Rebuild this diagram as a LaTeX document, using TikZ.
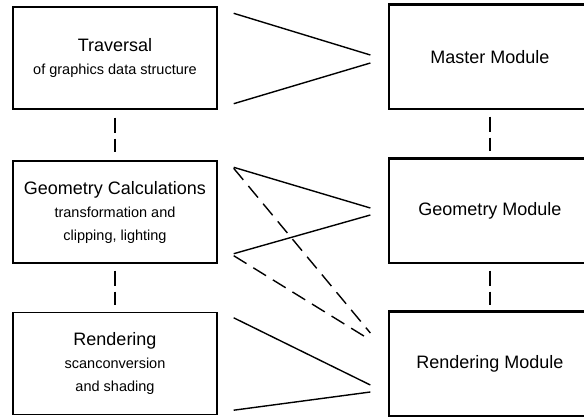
\documentclass[tikz,border=0pt]{standalone}
\usepackage{fontspec}
\setmainfont{Liberation Sans}
\usetikzlibrary{calc}
\begin{document}
\begin{tikzpicture}[x=1pt,y=-1pt,
  lbox/.style={draw, line width=1.4pt, minimum width=204pt, minimum height=102pt, inner sep=0pt, align=center, font=\fontsize{14.5}{23}\selectfont},
  rbox/.style={draw, line width=1.3pt, minimum width=260pt, minimum height=104pt, inner sep=0pt, font=\fontsize{18}{23}\selectfont},
  topbar/.style={line width=3.5pt},
  conn/.style={line width=1.4pt},
  dconn/.style={line width=1.4pt, dash pattern=on 15pt off 8pt},
  vdash/.style={line width=1.4pt, dash pattern=on 15pt off 6pt}]
\useasboundingbox (0,0) rectangle (584,416);
\clip (0,0) rectangle (584,416);
\fill[white] (0,0) rectangle (584,416);
% left boxes
\node[lbox] (trav) at (115,58) {{\fontsize{18}{23}\selectfont Traversal}\\of graphics data structure};
\node[lbox] (geo) at (115,212) {{\fontsize{18}{23}\selectfont Geometry Calculations}\\transformation and\\clipping, lighting};
\node[lbox] (rend) at (115,363.5) {{\fontsize{18}{23}\selectfont Rendering}\\scanconversion\\and shading};
% right boxes (extend past the right edge of the picture)
\node[rbox] (master) at (519,57) {\hspace*{-58pt}Master Module};
\node[rbox] (gmod) at (519,211) {\hspace*{-58pt}Geometry Module};
\node[rbox] (rmod) at (519,364) {\hspace*{-58pt}Rendering Module};
\draw[topbar] (master.north west) -- (master.north east);
\draw[topbar] (gmod.north west) -- (gmod.north east);
\draw[topbar] (rmod.north west) -- (rmod.north east);
% vertical dashed links
\draw[vdash, shorten <=8pt, shorten >=8pt] (trav.south) -- (geo.north);
\draw[vdash, shorten <=7pt, shorten >=7pt] (geo.south) -- (rend.north);
\draw[vdash, shorten <=7pt, shorten >=7pt] ([xshift=-29pt]master.south) -- ([xshift=-29pt]gmod.north);
\draw[vdash, shorten <=7pt, shorten >=6pt] ([xshift=-29pt]gmod.south) -- ([xshift=-29pt]rmod.north);
% connectors
\draw[conn] ($(trav.north east)+(16,7)$) -- ($(master.west)+(-18,-2)$);
\draw[conn] ($(trav.south east)+(16,-6)$) -- ($(master.west)+(-18,6)$);
\draw[conn] ($(geo.north east)+(16,7)$) -- ($(gmod.west)+(-18,-3)$);
\draw[conn] ($(geo.south east)+(16,-10)$) -- ($(gmod.west)+(-18,4)$);
\draw[dconn] ($(geo.north east)+(16,8)$) -- ($(rmod.west)+(-18,-31)$);
\draw[dconn] ($(geo.south east)+(16,-8)$) -- ($(rmod.west)+(-18,-24)$);
\draw[conn] ($(rend.north east)+(16,6)$) -- ($(rmod.west)+(-18,21)$);
\draw[conn] ($(rend.south east)+(16,-5)$) -- ($(rmod.west)+(-18,28)$);
\end{tikzpicture}
\end{document}
